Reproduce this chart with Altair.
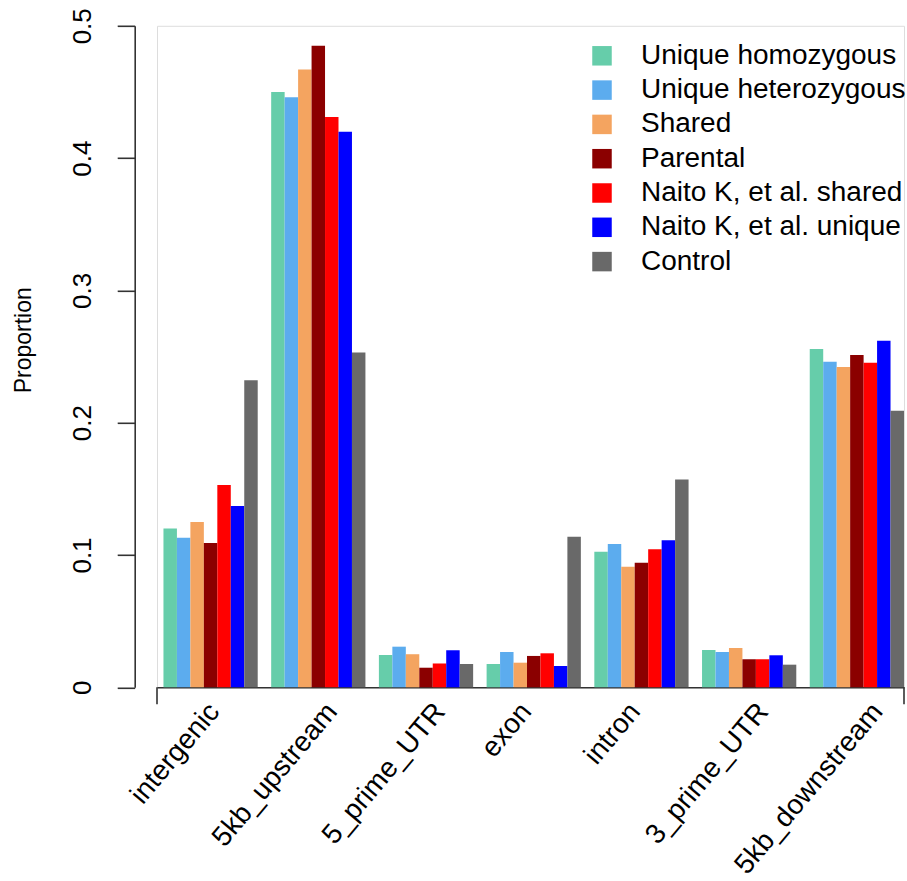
import altair as alt
import pandas as pd

# Genomic feature classes along the x axis
categories = ["intergenic", "5kb_upstream", "5_prime_UTR", "exon",
              "intron", "3_prime_UTR", "5kb_downstream"]

# Insertion sets (legend order) and their fill colours
series = ["Unique homozygous", "Unique heterozygous", "Shared", "Parental",
          "Naito K, et al. shared", "Naito K, et al. unique", "Control"]
colors = ["#66CDAA", "#5CACEE", "#F4A460", "#8B0000",
          "#FF0000", "#0000FF", "#696969"]

# Proportion of insertions per feature class, one list per set
unique_homozygous   = [0.120, 0.450, 0.0244, 0.0176, 0.1025, 0.0282, 0.2557]
unique_heterozygous = [0.113, 0.446, 0.0307, 0.0267, 0.1083, 0.0267, 0.2461]
shared              = [0.125, 0.467, 0.0250, 0.0186, 0.0912, 0.0297, 0.2421]
parental            = [0.109, 0.485, 0.0148, 0.0237, 0.0942, 0.0212, 0.2512]
naito_shared        = [0.153, 0.431, 0.0180, 0.0257, 0.1043, 0.0212, 0.2454]
naito_unique        = [0.137, 0.420, 0.0280, 0.0161, 0.1111, 0.0242, 0.2620]
control             = [0.232, 0.253, 0.0176, 0.1138, 0.1570, 0.0171, 0.2091]

y_ticks = [0, 0.1, 0.2, 0.3, 0.4, 0.5]

values_by_series = [unique_homozygous, unique_heterozygous, shared, parental,
                    naito_shared, naito_unique, control]

rows = []
for name, vals in zip(series, values_by_series):
    for cat, v in zip(categories, vals):
        rows.append({"category": cat, "series": name, "value": v})
df = pd.DataFrame(rows)

FONT = "Liberation Sans"
W, H = 747, 661.5
AXIS_COLOR = "#333333"
LABEL_ANGLE = 310  # slant of the category names (50 degrees up)

x_scale = alt.Scale(paddingInner=0.125, paddingOuter=0.03, align=1)

bars = alt.Chart(df).mark_bar().encode(
    x=alt.X(
        "category:N",
        sort=categories,
        scale=x_scale,
        axis=alt.Axis(
            title=None,
            ticks=False,
            labels=False,
            domainColor=AXIS_COLOR,
            domainWidth=1.6,
        ),
    ),
    xOffset=alt.XOffset(
        "series:N",
        sort=series,
        scale=alt.Scale(paddingInner=0, paddingOuter=0),
    ),
    y=alt.Y(
        "value:Q",
        scale=alt.Scale(domain=[0, 0.5], nice=False, zero=True),
        axis=alt.Axis(
            values=y_ticks,
            format="~g",
            grid=False,
            offset=22.3,
            tickSize=17.5,
            tickWidth=1.6,
            tickColor=AXIS_COLOR,
            domainColor=AXIS_COLOR,
            domainWidth=1.6,
            labelAngle=-90,
            labelAlign="center",
            labelBaseline="alphabetic",
            labelPadding=27,
            labelFontSize=26,
            labelFont=FONT,
            labelColor="#000000",
            title="Proportion",
            titleFont=FONT,
            titleFontSize=23,
            titleFontWeight="normal",
            titleColor="#000000",
            titleAngle=-90,
            titleAlign="center",
            titleBaseline="alphabetic",
            titleX=-104,
            titleY=314,
        ),
    ),
    color=alt.Color(
        "series:N",
        sort=series,
        scale=alt.Scale(domain=series, range=colors),
        legend=alt.Legend(
            title=None,
            orient="none",
            legendX=431,
            legendY=16,
            direction="vertical",
            symbolType="square",
            symbolSize=380,
            symbolStrokeWidth=0,
            labelFont=FONT,
            labelFontSize=28,
            labelColor="#000000",
            labelOffset=25,
            labelLimit=0,
            rowPadding=6.3,
            padding=0,
        ),
    ),
)

# Slanted category names under each group; the horizontal nudge grows with
# the approximate printed width (in em) of the name.
shift = "(5.25 * datum.em - 18.8)"
cat_labels = alt.Chart(pd.DataFrame({"category": categories})).transform_calculate(
    narrow="length(replace(datum.category, regexp('[^irtlj]', 'g'), ''))",
    wide="length(replace(datum.category, regexp('[^mwMWUTR]', 'g'), ''))",
).transform_calculate(
    em="0.556 * length(datum.category) - 0.3 * datum.narrow + 0.2 * datum.wide",
).mark_text(
    angle=LABEL_ANGLE,
    align="right",
    baseline="middle",
    font=FONT,
    fontSize=28,
    color="#000000",
    dx=alt.expr("0.643 * " + shift),
    dy=alt.expr("0.766 * " + shift),
).encode(
    x=alt.X("category:N", sort=categories, scale=x_scale),
    y=alt.value(H + 20),
    text="category:N",
)

# Short end ticks hanging below the category axis line
end_ticks = alt.Chart(pd.DataFrame({"k": [0]})).mark_rule(
    color=AXIS_COLOR, strokeWidth=1.6
).encode(x=alt.value(0), y=alt.value(H), y2=alt.value(H + 17))
end_ticks_r = alt.Chart(pd.DataFrame({"k": [0]})).mark_rule(
    color=AXIS_COLOR, strokeWidth=1.6
).encode(x=alt.value(W), y=alt.value(H), y2=alt.value(H + 17))

chart = alt.layer(bars, cat_labels, end_ticks, end_ticks_r).properties(
    width=W,
    height=H,
    autosize=alt.AutoSizeParams(type="none"),
    padding={"left": 157, "top": 25.8, "right": 3, "bottom": 194},
).configure_view(stroke=None).configure(background="white")

chart.save("out.html", embed_options={"renderer": "svg", "actions": False})
